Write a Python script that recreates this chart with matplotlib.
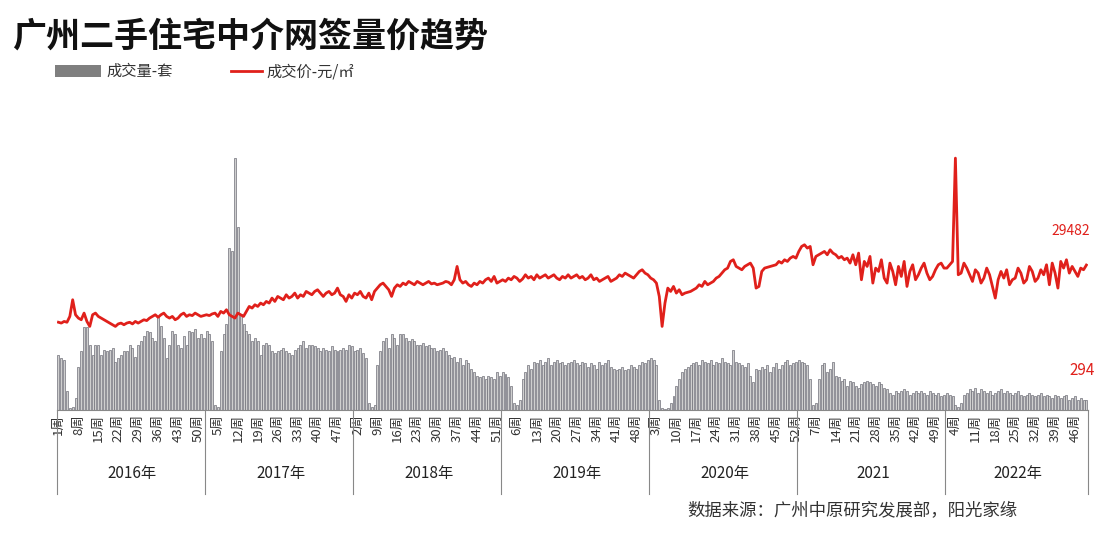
#!/usr/bin/env python3
"""Guangzhou second-hand housing weekly volume & price trend."""
import matplotlib.pyplot as plt
from matplotlib.lines import Line2D
from matplotlib.patches import Rectangle

plt.rcParams["font.family"] = ["Noto Sans CJK SC", "DejaVu Sans"]

years = ["2016年", "2017年", "2018年", "2019年", "2020年", "2021", "2022年"]

vol_2016 = [1600, 1500, 1450, 550, 60, 80, 350, 1250, 1700, 2400, 2400, 1900, 1600, 1900, 1900, 1600,
            1750, 1700, 1750, 1800, 1400, 1500, 1600, 1700, 1700, 1900, 1800, 1550, 1900, 2000, 2150, 2300,
            2250, 2100, 2000, 2700, 2450, 2100, 1500, 1900, 2300, 2200, 1900, 1800, 2150, 1900, 2300, 2250,
            2350, 2100, 2200, 2100]
vol_2017 = [2300, 2200, 2000, 150, 100, 1700, 2200, 2500, 4700, 4600, 7300, 5300, 2800, 2500, 2300, 2200,
            2000, 2100, 2000, 1600, 1900, 1950, 1900, 1700, 1650, 1700, 1750, 1800, 1700, 1650, 1600, 1750,
            1800, 1900, 2000, 1800, 1900, 1900, 1850, 1800, 1700, 1800, 1750, 1700, 1850, 1750, 1700, 1750,
            1800, 1750, 1900, 1850]
vol_2018 = [1700, 1750, 1800, 1650, 1500, 200, 100, 150, 1300, 1700, 2000, 2100, 1800, 2200, 2100, 1900,
            2200, 2200, 2100, 2000, 2050, 2000, 1900, 1900, 1950, 1850, 1900, 1800, 1800, 1700, 1750, 1800,
            1700, 1600, 1500, 1550, 1400, 1500, 1300, 1450, 1350, 1200, 1100, 1000, 950, 1000, 900, 1000,
            950, 900, 1100, 1000]
vol_2019 = [1100, 1050, 950, 700, 200, 150, 300, 900, 1100, 1300, 1200, 1400, 1350, 1450, 1300, 1400,
            1500, 1300, 1400, 1450, 1350, 1400, 1300, 1350, 1400, 1450, 1350, 1300, 1400, 1350, 1250, 1350,
            1300, 1200, 1400, 1300, 1350, 1450, 1250, 1200, 1150, 1200, 1250, 1150, 1200, 1300, 1250, 1200,
            1300, 1400, 1350, 1450]
vol_2020 = [1500, 1450, 1300, 300, 50, 30, 60, 200, 400, 700, 900, 1100, 1200, 1250, 1300, 1350,
            1400, 1300, 1450, 1400, 1350, 1450, 1300, 1400, 1350, 1500, 1400, 1350, 1300, 1750, 1400, 1350,
            1300, 1250, 1350, 1000, 800, 1200, 1150, 1250, 1200, 1300, 1100, 1250, 1350, 1200, 1300, 1400,
            1450, 1300, 1350, 1400]
vol_2021 = [1450, 1400, 1350, 1300, 900, 150, 200, 900, 1300, 1350, 1100, 1200, 1400, 1000, 950, 850,
            900, 700, 850, 800, 700, 650, 750, 800, 850, 800, 750, 700, 800, 750, 650, 600,
            500, 450, 550, 500, 550, 600, 550, 450, 500, 550, 500, 550, 500, 450, 550, 500,
            450, 500, 400, 450]
vol_2022 = [500, 450, 400, 150, 100, 200, 450, 500, 600, 550, 650, 500, 600, 550, 500, 550,
            450, 500, 550, 600, 500, 550, 500, 450, 500, 550, 450, 400, 450, 500, 450, 400,
            450, 500, 400, 450, 400, 350, 450, 400, 350, 400, 450, 300, 350, 400, 300, 350,
            300, 294]

price_2016 = [26050, 26000, 26100, 26050, 26400, 27400, 26500, 26300, 26200, 26600, 26100, 25800, 26500,
              26600, 26400, 26300, 26200, 26100, 26000, 25900, 25800, 25950, 26000, 25900, 26000, 26050,
              25950, 26100, 26000, 26100, 26200, 26150, 26300, 26400, 26500, 26350, 26500, 26600, 26400,
              26300, 26400, 26200, 26300, 26500, 26600, 26400, 26500, 26450, 26600, 26500, 26400, 26450]
price_2017 = [26500, 26450, 26550, 26600, 26400, 26700, 26600, 26800, 26500, 26400, 26300, 26600, 26500,
              26400, 26700, 27000, 26900, 27100, 27000, 27200, 27100, 27300, 27200, 27500, 27300, 27600,
              27500, 27400, 27700, 27500, 27600, 27800, 27500, 27700, 27600, 27900, 27800, 27700, 27900,
              28000, 27800, 27600, 27800, 27900, 27700, 27800, 28100, 27700, 27600, 27300, 27700, 27500]
price_2018 = [27800, 27700, 27900, 27600, 27500, 27800, 27400, 27900, 28100, 28300, 28400, 28200, 28000,
              27600, 28100, 28300, 28200, 28400, 28300, 28500, 28400, 28300, 28500, 28400, 28300, 28400,
              28500, 28350, 28400, 28300, 28350, 28400, 28500, 28450, 28300, 28600, 29400, 28600, 28400,
              28500, 28300, 28200, 28400, 28300, 28500, 28400, 28600, 28700, 28500, 28800, 28400, 28500]
price_2019 = [28600, 28500, 28700, 28600, 28800, 28700, 28500, 28650, 28900, 28700, 28800, 28600, 28900,
              28700, 28800, 28900, 28700, 28800, 28900, 28700, 28600, 28800, 28700, 28900, 28700, 28800,
              28900, 28700, 28800, 28600, 28700, 28900, 28600, 28700, 28500, 28600, 28700, 28800, 28500,
              28600, 28700, 28900, 28800, 29000, 28900, 28800, 28700, 28900, 29100, 29200, 29000, 28900]
price_2020 = [28700, 28600, 28400, 27600, 25800, 27200, 28100, 27900, 28200, 27800, 28000, 27700, 27800,
              27850, 27900, 28000, 28100, 28300, 28200, 28500, 28300, 28400, 28500, 28700, 28800, 29000,
              29200, 29300, 29700, 29800, 29400, 29300, 29200, 29400, 29500, 29600, 29300, 28100, 28200,
              29100, 29300, 29350, 29400, 29450, 29500, 29700, 29600, 29800, 29700, 29900, 30000, 29900]
price_2021 = [30300, 30600, 30700, 30500, 30600, 29500, 30000, 30100, 30200, 30300, 30100, 30400, 30200,
              30100, 29900, 30000, 29800, 29900, 29600, 30100, 29500, 30200, 28600, 29700, 29400, 30000,
              28400, 29300, 29100, 29800, 28700, 28400, 29600, 29100, 28300, 29400, 28800, 29700, 28200,
              29100, 29500, 28600, 28900, 29300, 29600, 29000, 28600, 28800, 29200, 29500, 29600, 29300]
price_2022 = [29300, 29500, 29700, 35900, 28900, 29000, 29600, 29300, 28900, 28500, 29200, 29000, 28400,
              28700, 29300, 28900, 28200, 27500, 28600, 29100, 28700, 29200, 28300, 28600, 28700, 29300,
              29000, 28400, 28600, 29400, 29100, 28500, 28700, 29200, 28900, 29500, 28300, 29600, 29000,
              28100, 29700, 29300, 29800, 29000, 29400, 29100, 28800, 29300, 29200, 29482]

vol_years = [vol_2016, vol_2017, vol_2018, vol_2019, vol_2020, vol_2021, vol_2022]
price_years = [price_2016, price_2017, price_2018, price_2019, price_2020, price_2021, price_2022]

volume = [v for yr in vol_years for v in yr]
price = [p for yr in price_years for p in yr]
week_no = [w + 1 for yr in vol_years for w in range(len(yr))]
x = list(range(len(volume)))

fig = plt.figure(figsize=(11.18, 5.42), dpi=100)
ax = fig.add_axes([0.051, 0.2435, 0.922, 0.498])
ax2 = ax.twinx()

ax.bar(x, volume, width=0.7, color="#cfcfcf", edgecolor="#707079", linewidth=0.5)
ax.set_ylim(0, 7830)
ax.set_xlim(-0.5, len(x) - 0.5)
ax2.plot(x, price, color="#e0201b", linewidth=2)
ax2.set_ylim(20782, 36982)

for a in (ax, ax2):
    a.set_yticks([])
    for side in ("top", "left", "right"):
        a.spines[side].set_visible(False)
ax2.spines["bottom"].set_visible(False)
ax.spines["bottom"].set_color("#888888")

ticks = [i for i in x if i % 7 == 0]
ax.set_xticks(ticks)
ax.set_xticklabels([f"{week_no[i]}周" for i in ticks], rotation=90, fontsize=9.5, color="#333333")
ax.tick_params(axis="x", length=0, pad=3)

# year separators and labels
trans = ax.get_xaxis_transform()
start = 0
for label, yr in zip(years, vol_years):
    ax.plot([start - 0.5, start - 0.5], [0, -0.31], transform=trans, color="#888888",
            linewidth=0.8, clip_on=False)
    ax.text(start + len(yr) / 2, -0.235, label, transform=trans, ha="center", va="center",
            fontsize=11, color="#222222")
    start += len(yr)
ax.plot([start - 0.5, start - 0.5], [0, -0.31], transform=trans, color="#888888",
        linewidth=0.8, clip_on=False)

ax2.annotate(f"{price[-1]}", (x[-1], price[-1]), xytext=(-25, 22), textcoords="offset points",
             color="#e0201b", fontsize=10)
ax.annotate(f"{volume[-1]}", (x[-1], volume[-1]), xytext=(-12, 18), textcoords="offset points",
            color="#e0201b", fontsize=11)

fig.text(0.011, 0.915, "广州二手住宅中介网签量价趋势", fontsize=24.5, fontweight="bold", color="#111111")
fig.patches.append(Rectangle((0.049, 0.858), 0.041, 0.022, transform=fig.transFigure,
                             facecolor="#7f7f7f", edgecolor="none"))
fig.text(0.095, 0.868, "成交量-套", fontsize=11, va="center", color="#333333")
fig.lines.append(Line2D([0.207, 0.234], [0.869, 0.869], transform=fig.transFigure,
                        color="#e0201b", linewidth=2))
fig.text(0.238, 0.868, "成交价-元/㎡", fontsize=11, va="center", color="#333333")
fig.text(0.615, 0.05, "数据来源：广州中原研究发展部，阳光家缘", fontsize=12.5, color="#333333")

fig.savefig("out.png", dpi=100)
